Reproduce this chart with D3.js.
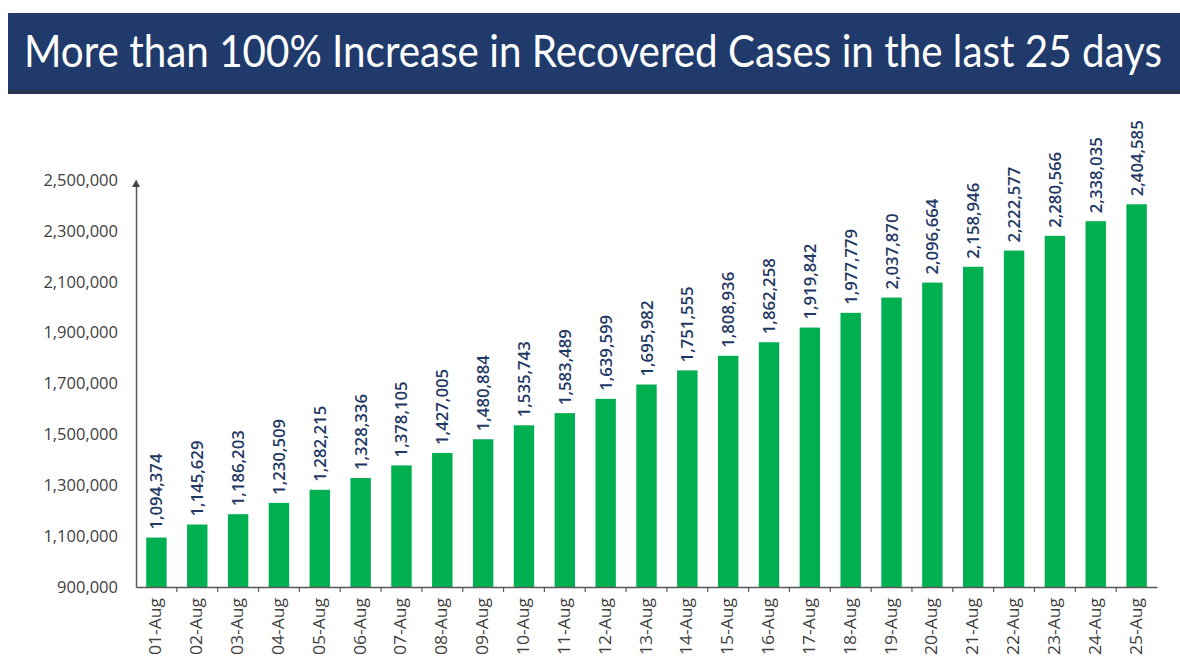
<!DOCTYPE html>
<html><head><meta charset="utf-8">
<script src="https://cdn.jsdelivr.net/npm/d3@7"></script>
<style>
html,body{margin:0;padding:0;background:#fff;}
svg{display:block;}
</style></head>
<body>
<svg id="chart" width="1180" height="671"></svg>
<script>
const title = "More than 100% Increase in Recovered Cases in the last 25 days";
const categories = ["01-Aug","02-Aug","03-Aug","04-Aug","05-Aug","06-Aug","07-Aug","08-Aug","09-Aug","10-Aug","11-Aug","12-Aug","13-Aug","14-Aug","15-Aug","16-Aug","17-Aug","18-Aug","19-Aug","20-Aug","21-Aug","22-Aug","23-Aug","24-Aug","25-Aug"];
const recovered = [1094374,1145629,1186203,1230509,1282215,1328336,1378105,1427005,1480884,1535743,1583489,1639599,1695982,1751555,1808936,1862258,1919842,1977779,2037870,2096664,2158946,2222577,2280566,2338035,2404585];
const yTicks = [900000,1100000,1300000,1500000,1700000,1900000,2100000,2300000,2500000];

const svg = d3.select("#chart");
const fmt = d3.format(",");

// Title banner
const banner = svg.append("g");
banner.append("rect").attr("x",8).attr("y",13).attr("width",1172).attr("height",80).attr("fill","#1f3a6b");
banner.append("rect").attr("x",8).attr("y",90).attr("width",1172).attr("height",4).attr("fill","#2b3550");
banner.append("text")
  .attr("transform","translate(24,67) scale(1,1.18)")
  .attr("fill","#ffffff").attr("font-family","Lato, 'Open Sans', sans-serif")
  .attr("font-size",38).attr("textLength",1138).attr("lengthAdjust","spacingAndGlyphs")
  .text(title);

const y = d3.scaleLinear().domain([900000,2500000]).range([587,180]);
const x = d3.scaleBand().domain(categories).range([136,1157]).paddingInner(0.5).paddingOuter(0.25);

// bars
svg.append("g").selectAll("rect").data(recovered).join("rect")
  .attr("x",(d,i)=>x(categories[i]))
  .attr("width",x.bandwidth())
  .attr("y",d=>y(d))
  .attr("height",d=>y(900000)-y(d))
  .attr("fill","#00b050");

// value labels
svg.append("g").selectAll("text").data(recovered).join("text")
  .attr("transform",(d,i)=>`translate(${x(categories[i])+x.bandwidth()/2+6},${y(d)-8}) rotate(-90)`)
  .attr("font-family","'Open Sans', sans-serif").attr("font-size",16)
  .attr("font-weight",600)
  .attr("textLength",76).attr("lengthAdjust","spacingAndGlyphs")
  .attr("fill","#1f3864")
  .text(d=>fmt(d));

// y axis
const yAxis = d3.axisLeft(y).tickValues(yTicks).tickFormat(fmt).tickSize(0).tickPadding(18);
const gy = svg.append("g").attr("transform","translate(136,0)").call(yAxis);
gy.select(".domain").attr("stroke","#595959").attr("stroke-width",1.5);
gy.selectAll("text").attr("font-family","'Open Sans', sans-serif").attr("font-size",16.5).attr("fill","#404040");
// arrow
svg.append("path").attr("d",`M132,${y(2500000)+7} L136,${y(2500000)} L140,${y(2500000)+7} Z`).attr("fill","#404040");

// x axis
const xAxis = d3.axisBottom(x).tickSize(0).tickPadding(0);
const gx = svg.append("g").attr("transform","translate(0,587)").call(xAxis);
gx.select(".domain").attr("stroke","#595959").attr("stroke-width",1.5);
gx.selectAll("text")
  .attr("font-family","'Open Sans', sans-serif").attr("font-size",16).attr("fill","#404040")
  .attr("textLength",57).attr("lengthAdjust","spacingAndGlyphs")
  .attr("text-anchor","end").attr("dy",null).attr("y",0)
  .attr("transform","translate(5,11) rotate(-90)");
// tick marks at band boundaries
const bounds = categories.slice(1).map(c => x(c) - x.step()*x.paddingInner()/2);
svg.append("g").selectAll("line").data(bounds).join("line")
  .attr("x1",d=>d).attr("x2",d=>d).attr("y1",587).attr("y2",592)
  .attr("stroke","#595959").attr("stroke-width",1.2);
</script>
</body></html>
